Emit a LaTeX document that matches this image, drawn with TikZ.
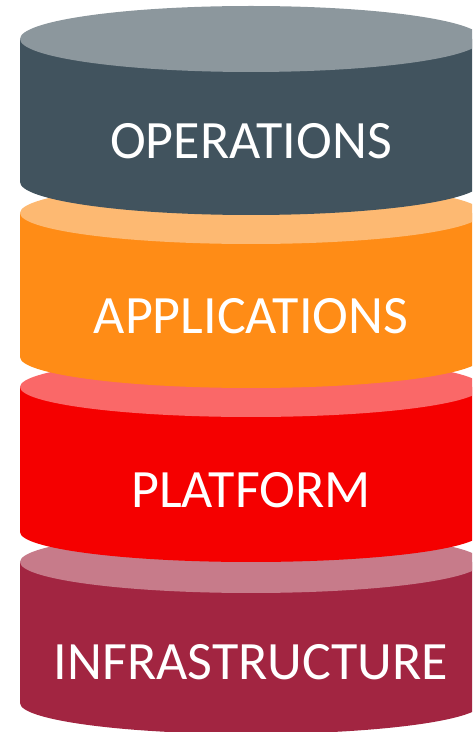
\documentclass[tikz,border=0pt]{standalone}
\usepackage{fontspec}
\setmainfont{Carlito}
\definecolor{opsBody}{RGB}{65,83,94}
\definecolor{opsTop}{RGB}{140,151,157}
\definecolor{appBody}{RGB}{255,140,22}
\definecolor{appTop}{RGB}{253,185,114}
\definecolor{platBody}{RGB}{245,0,0}
\definecolor{platTop}{RGB}{250,104,104}
\definecolor{infBody}{RGB}{162,37,65}
\definecolor{infTop}{RGB}{199,123,138}
\tikzset{
  layertext/.style={text=white, font=\fontsize{54}{54}\selectfont, inner sep=0pt},
}
% one cylinder: #1 top centre y, #2 bottom centre y, #3 y radius, #4 body colour, #5 top colour
\newcommand{\layercyl}[5]{%
  \fill[#4] (20,#1) -- (20,#2) arc[start angle=180, end angle=360, x radius=231, y radius=#3] -- (482,#1) -- cycle;
  \fill[#5] (251,#1) ellipse[x radius=231, y radius=#3];
}
\begin{document}
\begin{tikzpicture}[x=1pt,y=1pt]
  \useasboundingbox (0,0) rectangle (472,732);
  \clip (0,0) rectangle (472,732);
  \layercyl{170}{29}{31}{infBody}{infTop}
  \layercyl{345}{200}{30}{platBody}{platTop}
  \layercyl{519}{375}{31}{appBody}{appTop}
  \layercyl{693}{550}{33}{opsBody}{opsTop}
  \node[layertext] (ops) at (251,591) {OPERATIONS};
  \node[layertext] (app) at (251,416) {APPLICATIONS};
  \node[layertext] (plat) at (251,242) {PLATFORM};
  \node[layertext] (inf) at (251,70) {INFRASTRUCTURE};
\end{tikzpicture}
\end{document}
